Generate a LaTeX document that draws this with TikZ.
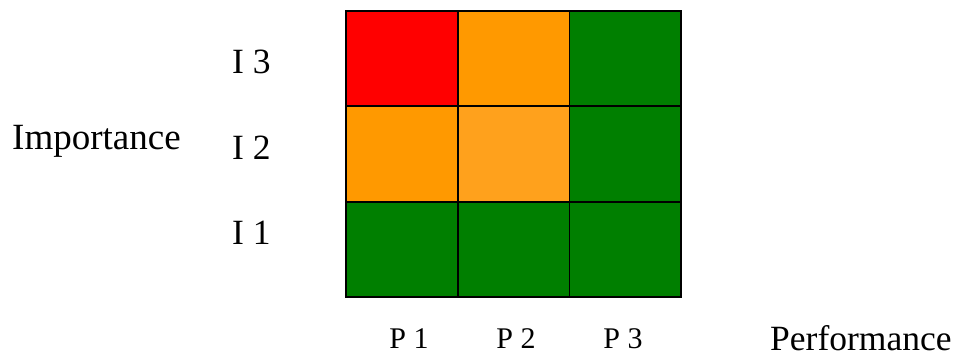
\documentclass[tikz,border=0pt]{standalone}
\usepackage{fontspec}
\setmainfont{Liberation Serif}
\usetikzlibrary{positioning}
\definecolor{riskred}{HTML}{FF0000}
\definecolor{riskorange}{HTML}{FF9900}
\definecolor{risklight}{HTML}{FFA11C}
\definecolor{riskgreen}{HTML}{007F00}
\tikzset{
  cell/.style={minimum width=111.7pt,minimum height=95.3pt,
               inner sep=0pt,outer sep=0pt},
  cellborder/.style={draw=black,line width=1.8pt},
  axislbl/.style={font=\fontsize{37}{40}\selectfont,inner sep=0pt,anchor=base west},
  rowlbl/.style={font=\fontsize{35.5}{40}\selectfont,inner sep=0pt,anchor=base west},
  collbl/.style={font=\fontsize{30}{34}\selectfont,inner sep=0pt,anchor=base},
}

\begin{document}
\begin{tikzpicture}[x=1pt,y=-1pt,node distance=0pt and 0pt]
  \useasboundingbox (0,0) rectangle (963,356);

  % top row (I 3)
  \node[cell,fill=riskred] (c13) at (401.85,58.65) {};
  \node[cell,fill=riskorange,right=of c13] (c23) {};
  \node[cell,fill=riskgreen,right=of c23] (c33) {};
  % middle row (I 2)
  \node[cell,fill=riskorange,below=of c13] (c12) {};
  \node[cell,fill=risklight,right=of c12] (c22) {};
  \node[cell,fill=riskgreen,right=of c22] (c32) {};
  % bottom row (I 1)
  \node[cell,fill=riskgreen,below=of c12] (c11) {};
  \node[cell,fill=riskgreen,right=of c11] (c21) {};
  \node[cell,fill=riskgreen,right=of c21] (c31) {};

  % borders on top so that shared edges keep full width
  \foreach \cname in {c11,c21,c31,c12,c22,c32,c13,c23,c33}
    \draw[cellborder] (\cname.south west) rectangle (\cname.north east);

  % row labels
  \node[rowlbl] (i3) at (232,73) {I 3};
  \node[rowlbl] (i2) at (232,159) {I 2};
  \node[rowlbl] (i1) at (232,244) {I 1};
  \node[axislbl] (imp) at (12,149) {Importance};

  % column labels
  \node[collbl] (p1) at (409,348) {P 1};
  \node[collbl] (p2) at (516,348) {P 2};
  \node[collbl] (p3) at (623,348) {P 3};
  \node[axislbl,font=\fontsize{35.5}{40}\selectfont] (perf) at (770,350) {Performance};
\end{tikzpicture}
\end{document}
